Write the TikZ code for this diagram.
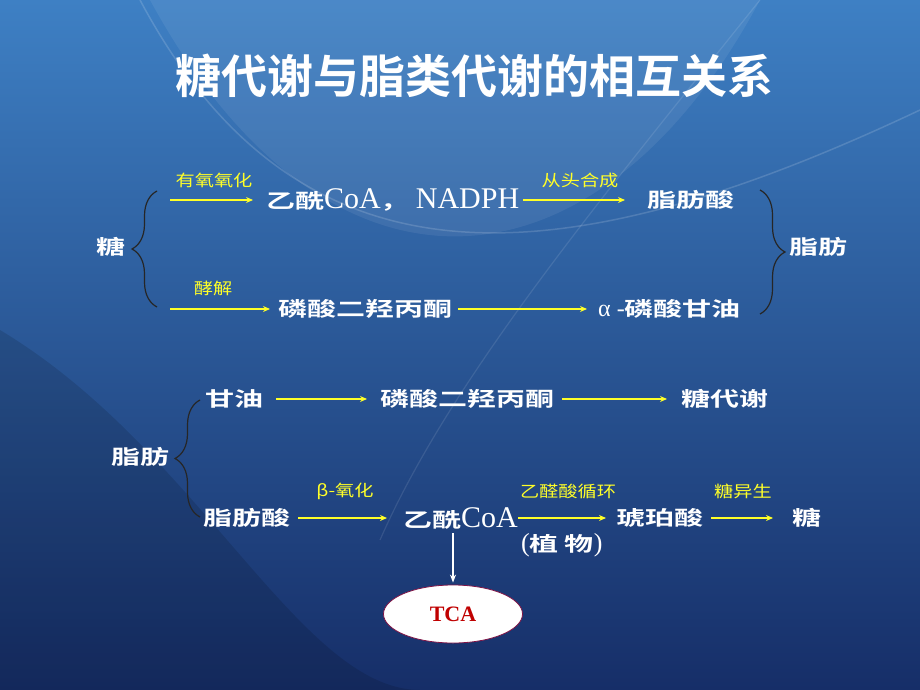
\documentclass[tikz,border=0pt]{standalone}
\usepackage{fontspec}
\usetikzlibrary{decorations.pathreplacing, shapes.geometric, arrows.meta}
\setmainfont{Liberation Serif}
\newfontfamily\titlecjk{Noto Sans CJK SC Bold}
\newfontfamily\termcjk[FakeStretch=1.45]{Noto Sans CJK SC Bold}
\newfontfamily\notecjk[FakeStretch=1.2]{Noto Sans CJK SC}
\definecolor{bgtop}{RGB}{62,128,196}
\definecolor{bgmid}{RGB}{40,98,168}
\definecolor{bgbot}{RGB}{22,46,104}
\definecolor{noteyellow}{RGB}{255,255,40}
\definecolor{tcared}{RGB}{192,0,0}
\definecolor{tcarim}{RGB}{128,20,70}
\newcommand{\romanpart}[1]{{\rmfamily\fontsize{30}{32}\selectfont #1}}
\tikzset{
  term/.style = {text = white, inner sep = 0pt, anchor = west,
    font = \termcjk\fontsize{20}{24}\selectfont},
  note/.style = {text = noteyellow, inner sep = 0pt,
    font = \notecjk\fontsize{16}{18}\selectfont},
  flow/.style = {draw = noteyellow, line width = 1.1pt, ->, >={Stealth[length = 7pt, width = 6pt]}},
  curly/.style = {draw = black!85, line width = 1.2pt, decorate,
    decoration = {brace, amplitude = 25pt}},
}

\begin{document}
\begin{tikzpicture}[x = 1pt, y = -1pt]
\useasboundingbox (0,0) rectangle (920,690);
\shade[top color = bgtop, middle color = bgmid, bottom color = bgbot] (0,0) rectangle (920,690);
\fill[white, opacity = 0.07] (150,0) .. controls (330,330) and (600,300) .. (760,0) -- cycle;
\draw[white, opacity = 0.15, line width = 1.5pt] (140,0) .. controls (300,300) and (560,280) .. (920,110);
\draw[white, opacity = 0.1, line width = 1.2pt] (760,0) .. controls (600,200) and (450,380) .. (380,540);
\fill[black, opacity = 0.12] (0,330) .. controls (200,450) and (300,690) .. (420,690) -- (0,690) -- cycle;

\node[text = white, inner sep = 0pt, font = \titlecjk\fontsize{46}{50}\selectfont] (title) at (474,76) {糖代谢与脂类代谢的相互关系};

\node[term] (sugar) at (96,247) {糖};
\node[term] (acoa1) at (266,200) {乙酰\romanpart{CoA}，\hspace{6pt}\romanpart{NADPH}};
\node[term] (fa1) at (647,200) {脂肪酸};
\node[term] (dhap1) at (278,309) {磷酸二羟丙酮};
\node[term] (g3p) at (598,309) {{\rmfamily\fontsize{24}{26}\selectfont α -}磷酸甘油};
\node[term] (fat1) at (789,247) {脂肪};
\coordinate (aerobic) at (170,200);
\coordinate (glycol) at (170,309);
\node[note] (aerobicnote) at (214,180) {有氧氧化};
\node[note] (denovonote) at (580,180) {从头合成};
\node[note] (glycolnote) at (213,288) {酵解};
\draw[flow, shorten >= 13pt] (aerobic) -- (acoa1.west);
\draw[flow, shorten <= 4pt, shorten >= 22pt] (acoa1.east) -- (fa1.west);
\draw[flow, shorten >= 8pt] (glycol) -- (dhap1.west);
\draw[flow, shorten <= 6pt, shorten >= 11pt] (dhap1.east) -- (g3p.west);
\draw[curly] (157,307) -- (157,191);
\draw[curly] (760,190) -- (760,314);

\node[term] (fat2) at (111,457) {脂肪};
\node[term] (gly) at (205,399) {甘油};
\node[term] (dhap2) at (380,399) {磷酸二羟丙酮};
\node[term] (sugmet) at (681,399) {糖代谢};
\node[term] (fa2) at (203,518) {脂肪酸};
\node[term] (acoa2) at (403,518) {乙酰\romanpart{CoA}};
\node[term] (succ) at (616,518) {琥珀酸};
\node[term] (sugar2) at (792,518) {糖};
\node[term] (plant) at (521,545) {{\rmfamily\fontsize{26}{28}\selectfont(}植\hspace{6pt}物{\rmfamily\fontsize{26}{28}\selectfont)}};
\node[note] (betanote) at (345,491) {β-氧化};
\node[note] (glyoxnote) at (568,491) {乙醛酸循环};
\node[note] (gluconote) at (743,491) {糖异生};
\draw[flow, shorten <= 13pt, shorten >= 13pt] (gly.east) -- (dhap2.west);
\draw[flow, shorten <= 8pt, shorten >= 14pt] (dhap2.east) -- (sugmet.west);
\draw[flow, shorten <= 8pt, shorten >= 16pt] (fa2.east) -- (acoa2.west);
\draw[flow, shorten >= 10pt] (acoa2.east) -- (succ.west);
\draw[flow, shorten <= 8pt, shorten >= 19pt] (succ.east) -- (sugar2.west);
\draw[curly] (200,517) -- (200,400);

\node[ellipse, draw = tcarim, fill = white, line width = 0.8pt, minimum width = 139pt,
  minimum height = 58pt, inner sep = 0pt, text = tcared,
  font = \rmfamily\bfseries\fontsize{22}{24}\selectfont] (tca) at (453,614) {TCA};
\draw[white, line width = 1.4pt, ->, >={Stealth[length = 8pt, width = 6pt]}, shorten <= 4pt, shorten >= 2pt] (tca.north |- acoa2.south) -- (tca.north);
\end{tikzpicture}
\end{document}
